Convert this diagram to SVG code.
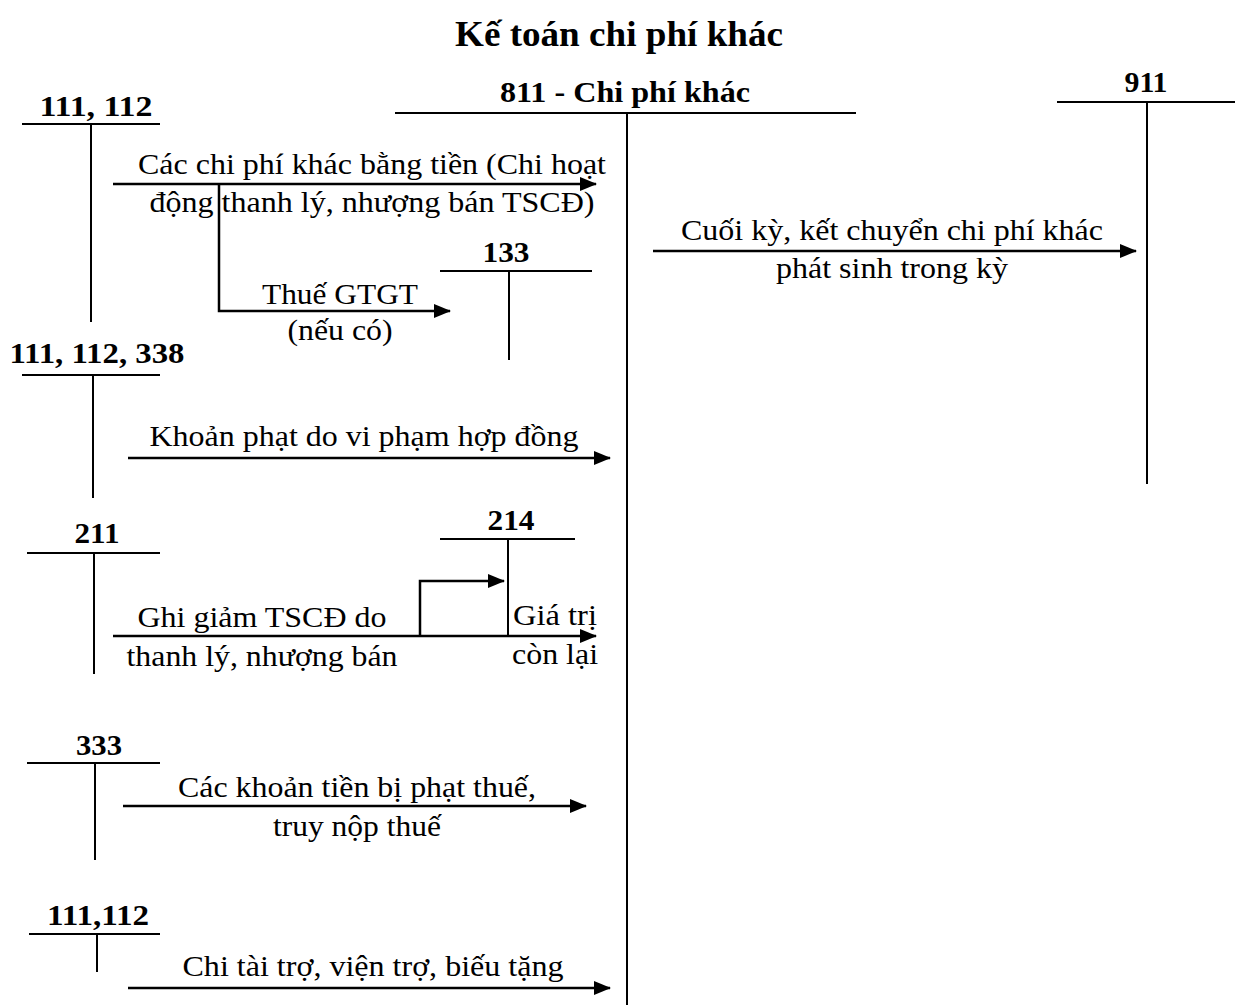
<svg xmlns="http://www.w3.org/2000/svg" width="1238" height="1005" viewBox="0 0 1238 1005">
<style>
text{font-family:"Liberation Serif","Times New Roman",serif;fill:#000}
.t{font-size:35px;font-weight:bold;text-anchor:middle}
.h{font-size:29px;font-weight:bold;text-anchor:middle}
.l{font-size:29px;text-anchor:middle}
.s{font-size:29px}
.ln{stroke:#000;stroke-width:2;fill:none}
.ar{stroke:#000;stroke-width:2.5;fill:none;marker-end:url(#ah)}
</style>
<defs>
<marker id="ah" markerUnits="userSpaceOnUse" markerWidth="18" markerHeight="14" refX="16" refY="7" orient="auto">
<path d="M0,0 L17,7 L0,14 Z" fill="#000"/>
</marker>
</defs>
<rect width="1238" height="1005" fill="#fff"/>
<text class="t" x="619" y="46" textLength="328" lengthAdjust="spacingAndGlyphs">Kế toán chi phí khác</text>

<g id="acc811">
<text class="h" x="625" y="102" textLength="250" lengthAdjust="spacingAndGlyphs">811 - Chi phí khác</text>
<line class="ln" x1="395" y1="113" x2="856" y2="113"/>
<line class="ln" x1="627" y1="113" x2="627" y2="1005"/>
</g>
<g id="acc911">
<text class="h" x="1146" y="92" textLength="43" lengthAdjust="spacingAndGlyphs">911</text>
<line class="ln" x1="1057" y1="102" x2="1235" y2="102"/>
<line class="ln" x1="1147" y1="102" x2="1147" y2="484"/>
</g>
<g id="acc111a">
<text class="h" x="96" y="116" textLength="113" lengthAdjust="spacingAndGlyphs">111, 112</text>
<line class="ln" x1="22" y1="124" x2="160" y2="124"/>
<line class="ln" x1="91" y1="124" x2="91" y2="322"/>
</g>
<g id="acc133">
<text class="h" x="506" y="262" textLength="47" lengthAdjust="spacingAndGlyphs">133</text>
<line class="ln" x1="440" y1="271" x2="592" y2="271"/>
<line class="ln" x1="509" y1="271" x2="509" y2="360"/>
</g>
<g id="acc111b">
<text class="h" x="97" y="363" textLength="175" lengthAdjust="spacingAndGlyphs">111, 112, 338</text>
<line class="ln" x1="22" y1="375" x2="160" y2="375"/>
<line class="ln" x1="93" y1="375" x2="93" y2="498"/>
</g>
<g id="acc211">
<text class="h" x="97" y="543" textLength="45" lengthAdjust="spacingAndGlyphs">211</text>
<line class="ln" x1="27" y1="553" x2="160" y2="553"/>
<line class="ln" x1="94" y1="553" x2="94" y2="674"/>
</g>
<g id="acc214">
<text class="h" x="511" y="530" textLength="47" lengthAdjust="spacingAndGlyphs">214</text>
<line class="ln" x1="440" y1="539" x2="575" y2="539"/>
<line class="ln" x1="508" y1="539" x2="508" y2="636"/>
</g>
<g id="acc333">
<text class="h" x="99" y="755" textLength="46" lengthAdjust="spacingAndGlyphs">333</text>
<line class="ln" x1="27" y1="763" x2="160" y2="763"/>
<line class="ln" x1="95" y1="763" x2="95" y2="860"/>
</g>
<g id="acc111c">
<text class="h" x="98" y="925" textLength="102" lengthAdjust="spacingAndGlyphs">111,112</text>
<line class="ln" x1="29" y1="934" x2="160" y2="934"/>
<line class="ln" x1="97" y1="934" x2="97" y2="972"/>
</g>

<g id="connectors">
<line class="ar" x1="113" y1="184" x2="596" y2="184"/>
<polyline class="ar" points="219,184 219,311 450,311"/>
<line class="ar" x1="128" y1="458" x2="610" y2="458"/>
<line class="ar" x1="113" y1="636" x2="596" y2="636"/>
<polyline class="ar" points="420,636 420,581 504,581"/>
<line class="ar" x1="123" y1="806" x2="586" y2="806"/>
<line class="ar" x1="128" y1="988" x2="610" y2="988"/>
<line class="ar" x1="653" y1="251" x2="1136" y2="251"/>
</g>

<g id="labels">
<text class="l" x="372" y="174" textLength="468" lengthAdjust="spacingAndGlyphs">Các chi phí khác bằng tiền (Chi hoạt</text>
<text class="l" x="372" y="212" textLength="445" lengthAdjust="spacingAndGlyphs">động thanh lý, nhượng bán TSCĐ)</text>
<text class="l" x="340" y="304" textLength="156" lengthAdjust="spacingAndGlyphs">Thuế GTGT</text>
<text class="l" x="340" y="340" textLength="105" lengthAdjust="spacingAndGlyphs">(nếu có)</text>
<text class="l" x="364" y="446" textLength="429" lengthAdjust="spacingAndGlyphs">Khoản phạt do vi phạm hợp đồng</text>
<text class="l" x="262" y="627" textLength="249" lengthAdjust="spacingAndGlyphs">Ghi giảm TSCĐ do</text>
<text class="l" x="262" y="666" textLength="271" lengthAdjust="spacingAndGlyphs">thanh lý, nhượng bán</text>
<text class="s" x="513" y="625" textLength="84" lengthAdjust="spacingAndGlyphs">Giá trị</text>
<text class="s" x="512" y="664" textLength="86" lengthAdjust="spacingAndGlyphs">còn lại</text>
<text class="l" x="357" y="797" textLength="358" lengthAdjust="spacingAndGlyphs">Các khoản tiền bị phạt thuế,</text>
<text class="l" x="357" y="836" textLength="168" lengthAdjust="spacingAndGlyphs">truy nộp thuế</text>
<text class="l" x="373" y="976" textLength="381" lengthAdjust="spacingAndGlyphs">Chi tài trợ, viện trợ, biếu tặng</text>
<text class="l" x="892" y="240" textLength="422" lengthAdjust="spacingAndGlyphs">Cuối kỳ, kết chuyển chi phí khác</text>
<text class="l" x="892" y="278" textLength="232" lengthAdjust="spacingAndGlyphs">phát sinh trong kỳ</text>
</g>
</svg>
